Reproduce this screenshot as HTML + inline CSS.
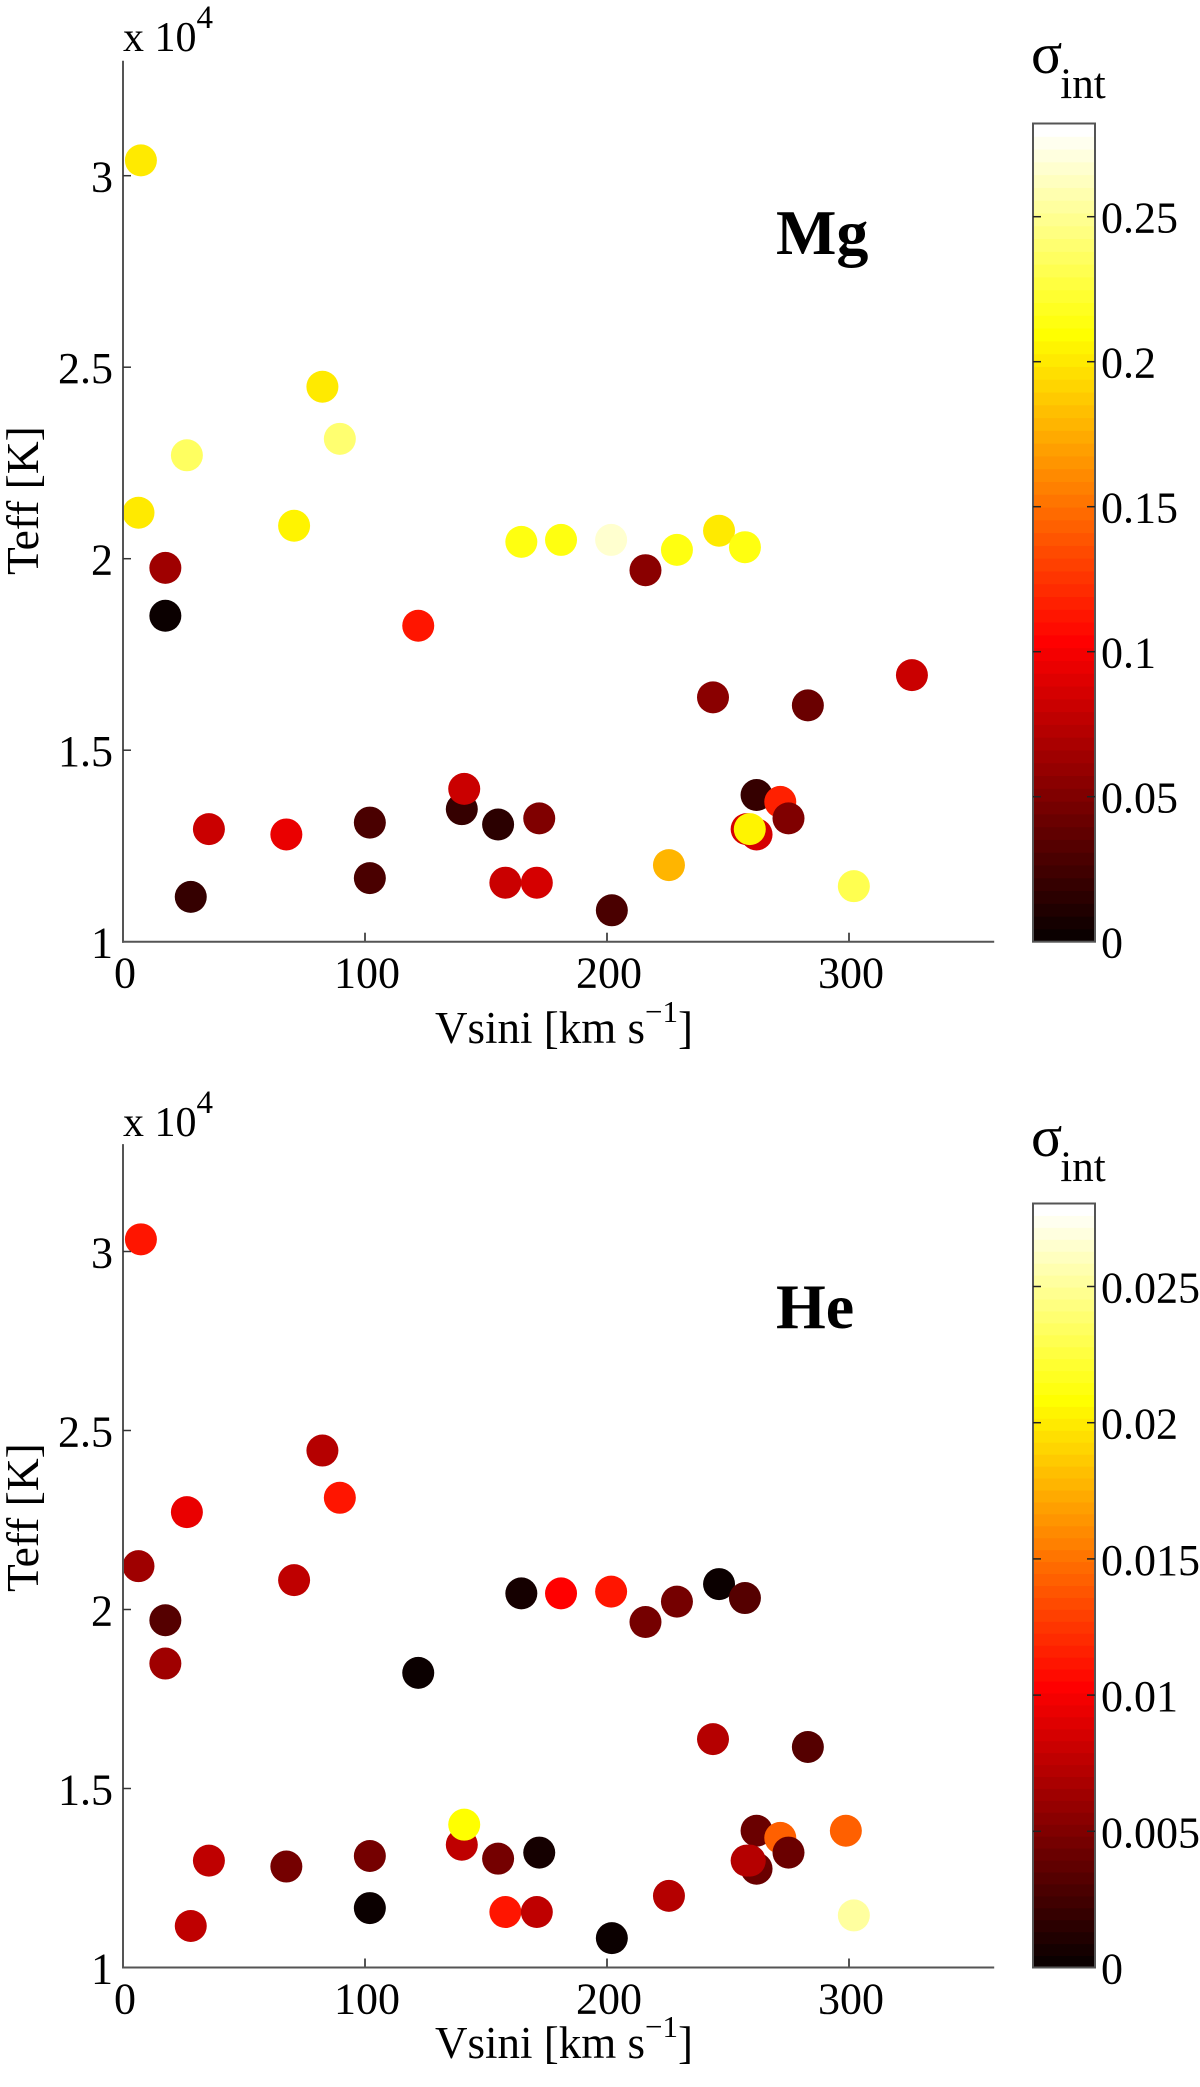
<!DOCTYPE html>
<html>
<head>
<meta charset="utf-8">
<title>Teff vs Vsini</title>
<style>
html,body{margin:0;padding:0;background:#fff;}
svg{display:block;}
text{font-family:"Liberation Serif",serif;fill:#000;}
</style>
</head>
<body>
<svg id="chart" xmlns="http://www.w3.org/2000/svg" width="1200" height="2087" viewBox="0 0 1200 2087">
  <rect x="0" y="0" width="1200" height="2087" fill="#fff"/>

  <g>
    <text x="123" y="51" font-size="42">x 10<tspan dy="-23" font-size="33">4</tspan></text>
    <text x="435" y="1043" font-size="45">Vsini [km s<tspan dy="-21" font-size="31">−1</tspan><tspan dy="21">]</tspan></text>
    <text transform="translate(38,575) rotate(-90)" font-size="45.5">Teff [K]</text>
    <text x="776" y="254" font-size="64" font-weight="bold">Mg</text>
    <text x="1031" y="73" font-size="58">σ<tspan dx="-2" dy="25" font-size="43">int</tspan></text>
  </g>

  <g>
    <text x="123" y="1136" font-size="42">x 10<tspan dy="-23" font-size="33">4</tspan></text>
    <text x="435" y="2058" font-size="45">Vsini [km s<tspan dy="-21" font-size="31">−1</tspan><tspan dy="21">]</tspan></text>
    <text transform="translate(38,1592) rotate(-90)" font-size="45.5">Teff [K]</text>
    <text x="776" y="1328" font-size="64" font-weight="bold">He</text>
    <text x="1031" y="1156" font-size="58">σ<tspan dx="-2" dy="25" font-size="43">int</tspan></text>
  </g>
</svg>

<script>
// Shared axis data
const vsiniTicks = [0, 100, 200, 300];
const teffTicks = [1, 1.5, 2, 2.5, 3];
const teffTickLabels = ['1', '1.5', '2', '2.5', '3'];

// Mg panel data
const mgVsini = [7.4, 6.4, 26.4, 82.4, 89.6, 70.7, 17.5, 17.5, 122, 164.6, 181, 201.7, 215.9, 228.9, 246.3, 257, 243.8, 283, 326, 35.5, 67.5, 102, 102, 28, 140, 141, 155, 172, 158, 171, 202, 225.6, 261.8, 271.6, 257.7, 261.8, 275, 259, 302];
const mgTeff = [3.04, 2.12, 2.27, 2.449, 2.313, 2.086, 1.976, 1.851, 1.825, 2.044, 2.049, 2.049, 1.97, 2.023, 2.073, 2.03, 1.638, 1.617, 1.696, 1.294, 1.28, 1.311, 1.166, 1.117, 1.346, 1.399, 1.306, 1.322, 1.154, 1.154, 1.082, 1.2, 1.383, 1.365, 1.294, 1.28, 1.322, 1.294, 1.145];
const mgSigma = [0.199, 0.2, 0.235, 0.2, 0.24, 0.205, 0.066, 0.004, 0.112, 0.212, 0.213, 0.265, 0.055, 0.215, 0.2, 0.215, 0.055, 0.04, 0.08, 0.08, 0.095, 0.03, 0.03, 0.02, 0.02, 0.08, 0.015, 0.05, 0.08, 0.085, 0.03, 0.179, 0.02, 0.118, 0.086, 0.086, 0.05, 0.205, 0.232];
const mgColorTicks = [0, 0.05, 0.1, 0.15, 0.2, 0.25];
const mgColorTickLabels = ['0', '0.05', '0.1', '0.15', '0.2', '0.25'];

// He panel data
const heVsini = [7.4, 6.4, 26.4, 82.4, 89.6, 70.7, 17.5, 17.5, 122, 164.6, 181, 201.7, 215.9, 228.9, 246.3, 257, 243.8, 283, 298.7, 35.5, 67.5, 102, 102, 28, 140, 141, 155, 172, 158, 171, 202, 225.6, 261.8, 271.6, 261.8, 257.7, 275, 259, 302];
const heTeff = [3.034, 2.121, 2.272, 2.444, 2.312, 2.082, 1.97, 1.849, 1.823, 2.045, 2.045, 2.05, 1.965, 2.022, 2.071, 2.032, 1.638, 1.616, 1.382, 1.2985, 1.282, 1.3115, 1.166, 1.116, 1.343, 1.399, 1.304, 1.321, 1.155, 1.155, 1.082, 1.2, 1.382, 1.362, 1.276, 1.2985, 1.321, 1.2985, 1.1455];
const heSigma = [0.0112, 0.0065, 0.0095, 0.0073, 0.0112, 0.0075, 0.0035, 0.0065, 0.0003, 0.0005, 0.0105, 0.0112, 0.0045, 0.0045, 0.0003, 0.0035, 0.0073, 0.0035, 0.0142, 0.0075, 0.0045, 0.0045, 0.0003, 0.0075, 0.0075, 0.021, 0.0045, 0.0005, 0.0112, 0.0075, 0.0003, 0.0073, 0.0042, 0.0142, 0.0042, 0.0073, 0.0042, 0.0073, 0.0252];
const heColorTicks = [0, 0.005, 0.01, 0.015, 0.02, 0.025];
const heColorTickLabels = ['0', '0.005', '0.01', '0.015', '0.02', '0.025'];

const svg = document.getElementById('chart');
const NS = 'http://www.w3.org/2000/svg';
const AXIS_COLOR = '#555';

function hot(i) {
  const r = Math.min(1, (i + 1) / 24);
  const g = i < 24 ? 0 : Math.min(1, (i - 23) / 24);
  const b = i < 48 ? 0 : (i - 47) / 16;
  return 'rgb(' + Math.round(r * 255) + ',' + Math.round(g * 255) + ',' + Math.round(b * 255) + ')';
}

function colorFor(v, cmax) {
  return hot(Math.max(0, Math.min(63, Math.floor(v / cmax * 64))));
}

function addLine(parent, x1, y1, x2, y2, stroke, width) {
  const el = document.createElementNS(NS, 'line');
  el.setAttribute('x1', x1);
  el.setAttribute('y1', y1);
  el.setAttribute('x2', x2);
  el.setAttribute('y2', y2);
  el.setAttribute('stroke', stroke);
  el.setAttribute('stroke-width', width);
  parent.appendChild(el);
  return el;
}

function addText(parent, x, y, str, anchor) {
  const el = document.createElementNS(NS, 'text');
  el.setAttribute('x', x);
  el.setAttribute('y', y);
  el.setAttribute('font-size', 44);
  el.setAttribute('text-anchor', anchor);
  el.textContent = str;
  parent.appendChild(el);
  return el;
}

function drawPanel(prefix, frame, vsini, teff, sigma, cTicks, cLabels) {
  const xScale = v => frame.left + v * frame.pxPerVsini;
  const yScale = t => frame.bottom - (t - 1) * frame.pxPerTeff;
  const cScale = s => frame.bottom - s * frame.pxPerSigma;

  const g = document.createElementNS(NS, 'g');
  
  
  svg.appendChild(g);

  // points
  for (let i = 0; i < vsini.length; i++) {
    const c = document.createElementNS(NS, 'circle');
    c.setAttribute('cx', xScale(vsini[i]));
    c.setAttribute('cy', yScale(teff[i]));
    c.setAttribute('r', 16);
    c.setAttribute('fill', colorFor(sigma[i], frame.cmax));
    
    
    g.appendChild(c);
  }

  // axes
  const yAxis = addLine(g, frame.left, yScale(3.3), frame.left, frame.bottom + 1, AXIS_COLOR, 2);
  
  
  const xAxis = addLine(g, frame.left - 1, frame.bottom, xScale(360), frame.bottom, AXIS_COLOR, 2);
  
  

  vsiniTicks.forEach(v => {
    if (v !== 0) {
      const t = addLine(g, xScale(v), frame.bottom, xScale(v), frame.bottom - 9, AXIS_COLOR, 2);
      
      
    }
    const l = addText(g, xScale(v) + 2, frame.bottom + 46, String(v), 'middle');
    
    
  });

  teffTicks.forEach((v, i) => {
    if (v !== 1) {
      const t = addLine(g, frame.left, yScale(v), frame.left + 8, yScale(v), '#333', 1.5);
      
      
    }
    const l = addText(g, 113, yScale(v) + 16, teffTickLabels[i], 'end');
    
    
  });

  // colorbar
  const cb = document.createElementNS(NS, 'g');
  
  
  g.appendChild(cb);
  const barH = frame.bottom - frame.barTop;
  for (let i = 0; i < 64; i++) {
    const r = document.createElementNS(NS, 'rect');
    r.setAttribute('x', frame.barLeft);
    r.setAttribute('y', frame.bottom - (i + 1) * barH / 64);
    r.setAttribute('width', frame.barRight - frame.barLeft);
    r.setAttribute('height', barH / 64 + 0.5);
    r.setAttribute('fill', hot(i));
    
    
    cb.appendChild(r);
  }
  const border = document.createElementNS(NS, 'rect');
  border.setAttribute('x', frame.barLeft);
  border.setAttribute('y', frame.barTop);
  border.setAttribute('width', frame.barRight - frame.barLeft);
  border.setAttribute('height', barH);
  border.setAttribute('fill', 'none');
  border.setAttribute('stroke', AXIS_COLOR);
  border.setAttribute('stroke-width', 2);
  
  
  cb.appendChild(border);
  cTicks.forEach((s, i) => {
    if (s !== 0) {
      const a = addLine(cb, frame.barLeft, cScale(s), frame.barLeft + 8, cScale(s), '#222', 1.5);
      
      
      const b = addLine(cb, frame.barRight - 8, cScale(s), frame.barRight, cScale(s), '#222', 1.5);
      
      
    }
    const l = addText(cb, frame.barRight + 6, cScale(s) + 16, cLabels[i], 'start');
    
    
  });
}

drawPanel('mg',
  {left: 123, bottom: 941.7, pxPerVsini: 2.42, pxPerTeff: 383, barLeft: 1033, barRight: 1095, barTop: 123.5, pxPerSigma: 2900, cmax: 0.2822},
  mgVsini, mgTeff, mgSigma, mgColorTicks, mgColorTickLabels);
drawPanel('he',
  {left: 123, bottom: 1967.5, pxPerVsini: 2.42, pxPerTeff: 358, barLeft: 1033, barRight: 1095, barTop: 1203.5, pxPerSigma: 27240, cmax: 0.02807},
  heVsini, heTeff, heSigma, heColorTicks, heColorTickLabels);
</script>
</body>
</html>
